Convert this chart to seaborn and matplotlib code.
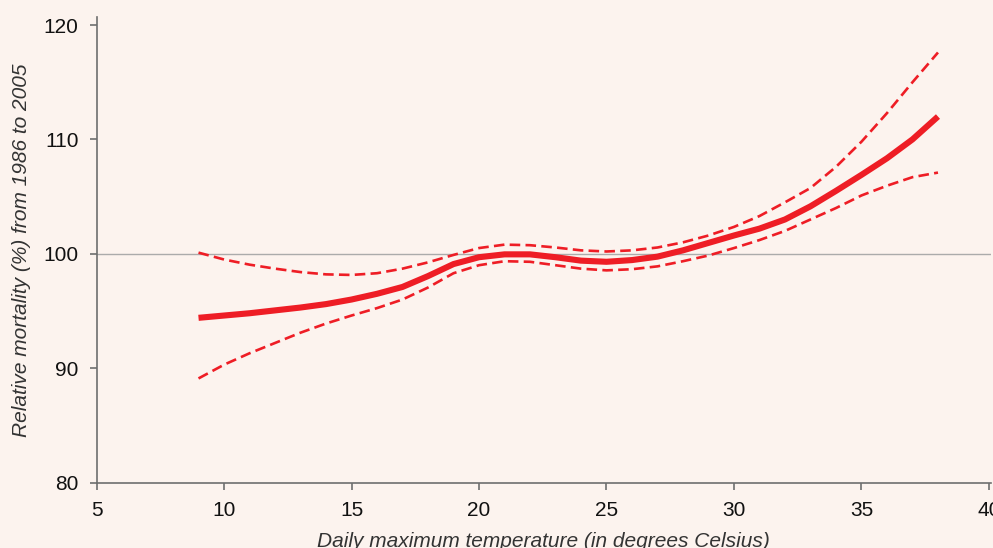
import matplotlib.pyplot as plt
import seaborn as sns
import pandas as pd

# --- data ---
temp = [9, 10, 11, 12, 13, 14, 15, 16, 17, 18, 19, 20, 21, 22, 23, 24, 25,
        26, 27, 28, 29, 30, 31, 32, 33, 34, 35, 36, 37, 38]
mortality = [94.4, 94.6, 94.8, 95.05, 95.3, 95.6, 96.0, 96.5, 97.1, 98.05,
             99.1, 99.7, 99.95, 99.95, 99.7, 99.4, 99.3, 99.45, 99.75, 100.3,
             100.95, 101.6, 102.2, 103.0, 104.15, 105.5, 106.9, 108.35, 110.0,
             112.0]
upper_ci = [100.1, 99.5, 99.05, 98.7, 98.4, 98.2, 98.15, 98.3, 98.7, 99.25,
            99.9, 100.5, 100.8, 100.75, 100.55, 100.3, 100.2, 100.3, 100.55,
            101.0, 101.6, 102.35, 103.3, 104.5, 105.75, 107.6, 109.8, 112.3,
            115.0, 117.6]
lower_ci = [89.1, 90.3, 91.3, 92.2, 93.1, 93.9, 94.6, 95.25, 96.0, 97.05,
            98.3, 99.0, 99.35, 99.3, 99.0, 98.7, 98.55, 98.65, 98.9, 99.35,
            99.85, 100.5, 101.2, 102.0, 103.0, 104.0, 105.1, 105.95, 106.7,
            107.1]
x_ticks = [5, 10, 15, 20, 25, 30, 35, 40]
y_ticks = [80, 90, 100, 110, 120]

# --- style ---
bg_color = "#FCF3EE"
red = "#EE1D25"
label_color = "#333333"
spine_color = "#6E6E6E"

sns.set_theme(style="white")
plt.rcParams["font.family"] = ["Liberation Sans", "DejaVu Sans"]

df = pd.DataFrame({"temp": temp, "mortality": mortality,
                   "upper": upper_ci, "lower": lower_ci})

fig = plt.figure(figsize=(9.93, 5.48), dpi=100, facecolor=bg_color)
ax = fig.add_axes([0.0972, 0.1195, 0.9008, 0.8494])
ax.set_facecolor(bg_color)

# reference line at 100
ax.axhline(100, color="#ABABAB", linewidth=1.0, zorder=1)

# confidence bounds (dashed) and the central estimate
for col in ("upper", "lower"):
    sns.lineplot(data=df, x="temp", y=col, ax=ax, color=red,
                 linewidth=1.9, zorder=3)
    ax.lines[-1].set_dashes((4, 2))
sns.lineplot(data=df, x="temp", y="mortality", ax=ax, color=red,
             linewidth=4.4, zorder=4)
ax.lines[-1].set_solid_capstyle("butt")

ax.set_xlim(5, 40.08)
ax.set_ylim(80, 120.7)
ax.set_xticks(x_ticks)
ax.set_yticks(y_ticks)

ax.set_xlabel("Daily maximum temperature (in degrees Celsius)", fontsize=15,
              style="italic", color=label_color, labelpad=9)
ax.set_ylabel("Relative mortality (%) from 1986 to 2005", fontsize=15,
              style="italic", color=label_color, labelpad=9)

for name, spine in ax.spines.items():
    if name in ("top", "right"):
        spine.set_visible(False)
    else:
        spine.set_color(spine_color)
        spine.set_linewidth(1.2)

ax.tick_params(axis="both", which="major", direction="out", length=5,
               width=1.2, color=spine_color, labelcolor="#111111",
               labelsize=15, pad=8, bottom=True, left=True)
ax.grid(False)

fig.savefig("out.png", dpi=100, facecolor=bg_color)
